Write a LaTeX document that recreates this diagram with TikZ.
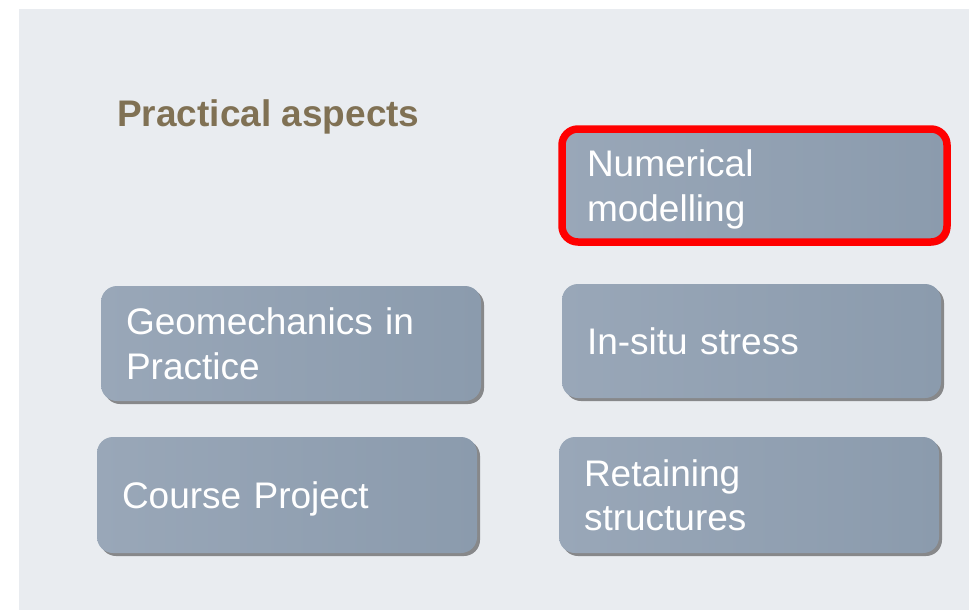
\documentclass[tikz,border=0pt]{standalone}
\usepackage{fontspec}
\setmainfont{Liberation Sans}
\usetikzlibrary{shadows}
\definecolor{panel}{RGB}{233,236,240}
\definecolor{boxL}{RGB}{153,167,184}
\definecolor{boxR}{RGB}{139,155,173}
\definecolor{titlec}{RGB}{128,113,84}
\begin{document}
\begin{tikzpicture}[x=1pt,y=-1pt,
  topic/.style={rounded corners=16pt, left color=boxL, right color=boxR,
    drop shadow={shadow xshift=3pt,shadow yshift=-3pt,opacity=0.5,fill=black!85},
    text=white, font=\fontsize{37}{44.5}\selectfont, align=left,
    inner xsep=25pt, inner ysep=0pt, text depth=0pt},
  twoline/.style={text depth=44.5pt},
  titlestyle/.style={font=\fontsize{37}{44}\selectfont\bfseries, text=titlec, inner sep=0pt},
  selected/.style={draw=red, line width=7.5pt}]
\useasboundingbox (0,0) rectangle (969,610);
\fill[panel] (19,9) rectangle (969,610);
\node[titlestyle, anchor=base west] (title) at (117,126) {Practical aspects};
\node[topic, twoline, selected, text width=335pt, minimum height=113pt] (num) at (754.5,185.5) {Numerical\\modelling};
\node[topic, twoline, text width=330pt, minimum height=115pt] (geo) at (291,343.5) {Geomechanics in\\Practice};
\node[topic, text width=329pt, minimum height=114pt] (insitu) at (751.5,341) {In-situ stress};
\node[topic, text width=330pt, minimum height=116pt] (course) at (287,495) {Course Project};
\node[topic, twoline, text width=330pt, minimum height=116pt] (ret) at (749,495) {Retaining\\structures};
\end{tikzpicture}
\end{document}
